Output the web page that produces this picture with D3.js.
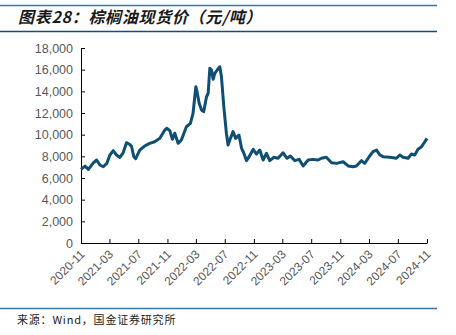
<!DOCTYPE html>
<html><head><meta charset="utf-8">
<script src="https://cdn.jsdelivr.net/npm/d3@7"></script>
<style>body{margin:0;background:#fff}svg{display:block}</style>
</head><body>
<svg id="c" width="456" height="335"></svg>
<script>
const dates = ["2020-11-01","2020-11-18","2020-12-02","2020-12-23","2021-01-06","2021-01-20","2021-02-03","2021-02-18","2021-03-03","2021-03-17","2021-03-31","2021-04-14","2021-04-28","2021-05-12","2021-05-23","2021-06-02","2021-06-12","2021-06-20","2021-07-07","2021-07-28","2021-08-18","2021-09-08","2021-09-30","2021-10-21","2021-10-30","2021-11-11","2021-11-22","2021-12-02","2021-12-16","2021-12-30","2022-01-20","2022-02-06","2022-02-17","2022-03-01","2022-03-06","2022-03-15","2022-03-25","2022-04-03","2022-04-15","2022-04-22","2022-04-29","2022-05-06","2022-05-13","2022-05-20","2022-05-30","2022-06-10","2022-06-17","2022-06-27","2022-07-08","2022-07-15","2022-07-25","2022-08-05","2022-08-16","2022-08-30","2022-09-10","2022-09-19","2022-10-01","2022-10-12","2022-10-29","2022-11-12","2022-11-26","2022-12-10","2022-12-24","2023-01-07","2023-01-24","2023-02-11","2023-03-04","2023-03-21","2023-04-04","2023-04-23","2023-05-11","2023-05-28","2023-06-18","2023-07-09","2023-07-30","2023-08-13","2023-09-03","2023-09-25","2023-10-16","2023-11-13","2023-12-04","2023-12-25","2024-01-08","2024-01-29","2024-02-12","2024-03-04","2024-03-18","2024-04-02","2024-04-16","2024-04-29","2024-05-28","2024-06-25","2024-07-09","2024-07-23","2024-08-13","2024-08-27","2024-09-10","2024-09-24","2024-10-09","2024-10-23","2024-11-01"];
const prices = [6800,7100,6800,7400,7660,7200,7040,7350,8120,8520,8120,7900,8330,9260,9140,8950,7970,7780,8580,8950,9200,9350,9660,10430,10590,10370,9570,10130,9200,9510,10730,11050,11970,14430,13970,12900,12280,12120,13500,13820,16130,15970,15110,15660,15970,16270,15350,12580,10130,9050,9660,10280,9660,9970,8740,8330,7600,7970,8650,8210,8580,7660,8280,7600,7910,7820,8330,7820,8030,7600,7720,7110,7660,7720,7660,7820,7910,7410,7350,7500,7110,7040,7110,7600,7350,8030,8430,8580,8120,7970,7910,7820,8120,7910,7820,8210,8120,8650,8890,9350,9660];
const xTickLabels = ["2020-11","2021-03","2021-07","2021-11","2022-03","2022-07","2022-11","2023-03","2023-07","2023-11","2024-03","2024-07","2024-11"];
const yTicks = [0,2000,4000,6000,8000,10000,12000,14000,16000,18000];
const title = "图表28：棕榈油现货价（元/吨）";
const source = "来源：Wind，国金证券研究所";

const svg = d3.select("#c");
const parse = d3.timeParse("%Y-%m-%d");
const parseM = d3.timeParse("%Y-%m");
const data = dates.map((d,i)=>({d:parse(d), v:prices[i]}));

const L=81, R=427, T=48, B=243;
const x = d3.scaleTime().domain([parseM("2020-11"), parseM("2024-11")]).range([L,R]);
const y = d3.scaleLinear().domain([0,18000]).range([B,T]);

// header lines
svg.append("line").attr("x1",0).attr("x2",437).attr("y1",5.5).attr("y2",5.5).attr("stroke","#3f73a0").attr("stroke-width",1.5);
svg.append("line").attr("x1",0).attr("x2",437).attr("y1",31.5).attr("y2",31.5).attr("stroke","#1d4b72").attr("stroke-width",1.5);
svg.append("text").attr("x",18).attr("y",23).text(title)
  .attr("font-family","'Noto Sans CJK SC'").attr("font-size",16).attr("font-weight","bold")
  .attr("font-style","italic").attr("letter-spacing",0.7).attr("fill","#1a1a1a");

// footer
svg.append("line").attr("x1",0).attr("x2",437).attr("y1",308.5).attr("y2",308.5).attr("stroke","#3f73a0").attr("stroke-width",1.5);
svg.append("text").attr("x",17).attr("y",324).text(source)
  .attr("font-family","'Noto Sans CJK SC'").attr("font-size",11).attr("letter-spacing",0.8).attr("fill","#222");

// y axis
const ya = svg.append("g").attr("transform",`translate(${L},0)`)
  .call(d3.axisLeft(y).tickValues(yTicks).tickSizeInner(-4).tickSizeOuter(0).tickPadding(8).tickFormat(d3.format(",")));
ya.select(".domain").attr("stroke","#000");
ya.selectAll(".tick line").attr("stroke","#000");
ya.selectAll("text").attr("font-family","'Liberation Sans',Arial,sans-serif").attr("font-size",12.5).attr("fill","#595959");

// x axis
const xa = svg.append("g").attr("transform",`translate(0,${B})`)
  .call(d3.axisBottom(x).tickValues(xTickLabels.map(parseM)).tickSizeInner(-4).tickSizeOuter(0).tickFormat(d3.timeFormat("%Y-%m")));
xa.select(".domain").attr("stroke","#000");
xa.selectAll(".tick line").attr("stroke","#000");
xa.selectAll("text").attr("font-family","'Liberation Sans',Arial,sans-serif").attr("font-size",12).attr("fill","#595959")
  .attr("text-anchor","end").attr("dy",0).attr("y",0)
  .attr("transform","translate(4,12) rotate(-45)");

// line
svg.append("path").datum(data)
  .attr("fill","none").attr("stroke","#0f4f73").attr("stroke-width",3).attr("stroke-linejoin","round")
  .attr("d", d3.line().x(d=>x(d.d)).y(d=>y(d.v)));
</script>
</body></html>
